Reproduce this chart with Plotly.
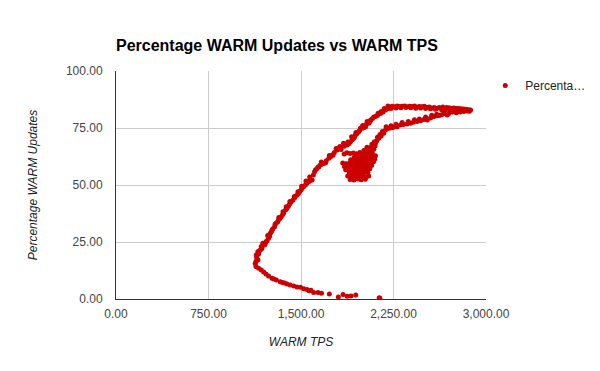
import plotly.graph_objects as go

# bottom tail (right to left)
tail_tps = [2134, 2140, 1944, 1906, 1874, 1841, 1803, 1730, 1666, 1638, 1603, 1581, 1565, 1549, 1522, 1495,
            1468, 1441, 1413, 1387, 1367, 1350, 1332, 1300, 1280, 1265, 1237, 1216, 1197, 1178, 1156, 1135]
tail_pct = [0.6, 0.3, 1.8, 1.3, 1.2, 2.0, 0.9, 2.2, 2.5, 2.8, 2.9, 3.8, 3.6, 4.2, 4.5, 5.1,
            5.3, 5.7, 6.1, 6.6, 7.0, 7.2, 7.6, 8.3, 8.8, 9.1, 10.1, 11.0, 11.8, 12.7, 13.5, 14.2]

# left rising arm
rise_tps = [1129, 1135, 1143, 1137, 1151, 1156, 1150, 1170, 1183, 1178, 1205, 1216, 1225, 1237, 1245, 1251,
            1265, 1272, 1286, 1297, 1310, 1318, 1330, 1340, 1354, 1359, 1375, 1387, 1398, 1408, 1420, 1435,
            1450, 1468, 1480, 1489, 1500, 1508, 1520, 1535, 1548, 1562, 1575, 1590]
rise_pct = [15.6, 16.5, 17.8, 19.3, 17.1, 19.7, 20.7, 21.5, 22.2, 23.0, 23.7, 25.1, 25.6, 26.6, 27.5, 28.8,
            30.3, 30.8, 31.7, 33.2, 33.8, 34.6, 35.3, 36.1, 38.3, 37.6, 39.0, 39.8, 40.8, 41.7, 42.5, 43.4,
            44.5, 45.6, 46.3, 47.1, 47.8, 48.6, 49.2, 50.0, 50.8, 51.4, 52.0, 52.2]
rise2_tps = [1140, 1160, 1190, 1210, 1230, 1260, 1290, 1320, 1350, 1380, 1410, 1445, 1475, 1505, 1540, 1570]
rise2_pct = [18.5, 21.0, 24.5, 24.2, 27.8, 29.5, 32.8, 35.8, 37.0, 40.5, 42.8, 45.0, 47.0, 49.5, 51.8, 53.5]

# upper branch
upper_tps = [1600, 1617, 1630, 1645, 1657, 1670, 1690, 1705, 1725, 1740, 1752, 1770, 1793, 1810, 1825, 1850,
             1874, 1890, 1901, 1915, 1928, 1935, 1941, 1955, 1968, 1982, 1996, 2010, 2023, 2036, 2050, 2065,
             2080, 2104, 2120, 2145, 2165, 2185, 2200, 2212]
upper_pct = [54.4, 56.6, 57.2, 58.0, 58.8, 59.2, 59.5, 60.6, 61.7, 62.4, 63.2, 64.2, 65.4, 66.0, 65.6, 67.0,
             67.5, 68.2, 69.0, 69.8, 70.5, 71.2, 71.9, 72.6, 73.4, 74.9, 74.9, 75.2, 75.6, 77.8, 77.1, 78.5,
             79.2, 80.0, 80.5, 81.4, 82.0, 82.9, 83.4, 83.9]
upper2_tps = [1610, 1640, 1665, 1700, 1730, 1760, 1785, 1815, 1845, 1880, 1910, 1945, 1975, 2000, 2030, 2060,
              2090, 2125, 2150, 2175, 2205]
upper2_pct = [55.8, 57.9, 60.1, 59.8, 62.9, 63.0, 66.0, 66.9, 68.3, 68.9, 71.2, 73.0, 73.9, 76.1, 76.6, 78.0,
              79.8, 81.5, 82.2, 83.5, 84.6]

# top plateau and right wing
top_tps = [2220, 2240, 2260, 2280, 2300, 2320, 2340, 2360, 2380, 2400, 2420, 2440, 2460, 2480, 2500, 2520,
           2540, 2560, 2580, 2600, 2620, 2650, 2680, 2700, 2720, 2740, 2760, 2780, 2800, 2820, 2840, 2860, 2875]
top_pct = [84.2, 84.5, 84.3, 84.6, 84.4, 84.5, 84.7, 84.3, 84.5, 84.4, 84.6, 84.2, 84.4, 84.3, 84.5, 84.0,
           84.2, 83.8, 84.0, 83.6, 84.0, 84.2, 84.0, 83.9, 83.7, 83.8, 83.5, 83.6, 83.4, 83.3, 83.2, 83.0, 82.9]
top2_tps = [2230, 2270, 2310, 2350, 2390, 2430, 2470, 2510, 2550, 2590, 2640, 2670, 2710, 2750, 2790, 2830, 2865]
top2_pct = [83.6, 83.8, 83.9, 84.0, 83.9, 83.7, 83.8, 83.6, 83.4, 83.2, 83.0, 82.8, 82.9, 82.4, 82.7, 82.8, 82.3]

# lower returning branch
lower_tps = [2850, 2820, 2790, 2760, 2730, 2700, 2686, 2659, 2640, 2620, 2600, 2578, 2550, 2524, 2497, 2470,
             2440, 2410, 2388, 2360, 2330, 2307, 2280, 2260, 2240, 2215, 2199, 2185, 2171, 2150, 2131, 2115,
             2104, 2085, 2063, 2045]
lower_pct = [82.5, 82.2, 82.0, 81.7, 82.0, 81.5, 80.7, 81.2, 80.8, 80.5, 80.4, 80.0, 79.4, 78.5, 78.7, 78.2,
             77.8, 77.5, 77.1, 76.8, 76.5, 76.3, 75.6, 75.5, 75.1, 74.9, 74.9, 74.1, 72.7, 71.5, 70.5, 69.4,
             68.3, 67.2, 66.1, 65.0]
lower2_tps = [2600, 2560, 2510, 2460, 2420, 2370, 2320, 2270, 2230, 2190, 2160, 2140, 2120, 2095, 2075]
lower2_pct = [81.0, 80.6, 79.8, 79.0, 78.6, 77.9, 77.4, 76.6, 76.0, 75.5, 73.5, 72.2, 70.9, 69.0, 67.9]

# dense cluster
blob_tps = [1850, 1872, 1898, 1924, 1951, 1977, 2003, 2026, 2052, 2078,
            1932, 1957, 1983, 2008, 2031, 2057, 2083, 2104,
            1903, 1926, 1948, 1976, 2002, 2027, 2049, 2074, 2098,
            1838, 1864, 1892, 1917, 1941, 1966, 1988, 2016, 2041, 2066, 2088,
            1852, 1877, 1899, 1926, 1952, 1973, 2001, 2024, 2051, 2073,
            1862, 1886, 1911, 1934, 1961, 1987, 2009, 2036, 2058,
            1892, 1914, 1941, 1967, 1989, 2013, 2042,
            1879, 1906, 1931, 1953, 1982, 2004, 2028, 2049,
            1898, 1929, 1962, 1988, 2021,
            2035, 2060, 2082, 2100,
            2010, 2040, 2065, 2090]
blob_pct = [63.6, 64.1, 63.8, 64.0, 63.7, 64.2, 63.9, 64.3, 63.8, 64.0,
            62.2, 62.6, 62.4, 62.1, 62.7, 62.3, 62.5, 62.8,
            61.1, 60.8, 61.2, 60.9, 61.0, 61.3, 60.7, 61.1, 61.4,
            59.6, 59.3, 59.7, 59.4, 59.5, 59.8, 59.2, 59.6, 59.4, 59.9, 60.2,
            58.1, 57.8, 58.2, 57.9, 58.0, 58.3, 57.7, 58.1, 58.4, 58.6,
            56.7, 56.4, 56.8, 56.5, 56.6, 56.9, 56.3, 56.7, 57.1,
            55.3, 55.0, 55.4, 55.1, 55.2, 55.5, 55.6,
            53.9, 53.6, 54.0, 53.7, 53.8, 54.1, 53.5, 53.9,
            52.4, 52.2, 52.6, 52.3, 52.5,
            66.6, 66.3, 66.8, 67.1,
            65.1, 65.4, 65.0, 65.7]

warm_tps = (tail_tps + rise_tps + rise2_tps + upper_tps + upper2_tps + top_tps + top2_tps
            + lower_tps + lower2_tps + blob_tps)
warm_pct = (tail_pct + rise_pct + rise2_pct + upper_pct + upper2_pct + top_pct + top2_pct
            + lower_pct + lower2_pct + blob_pct)

x_ticks = [0, 750, 1500, 2250, 3000]
y_ticks = [0, 25, 50, 75, 100]

FONT = "Liberation Sans, Arial, sans-serif"

fig = go.Figure()
fig.add_trace(go.Scatter(
    x=warm_tps, y=warm_pct, mode="markers", name="Percenta…",
    marker=dict(color="#cc0000", size=5, line=dict(width=0)),
))

fig.update_layout(
    width=600, height=371,
    margin=dict(l=108, r=122, t=63, b=80),
    paper_bgcolor="white", plot_bgcolor="white",
    font=dict(family=FONT, size=12, color="#444444"),
    title=dict(text="<b>Percentage WARM Updates vs WARM TPS</b>", x=108/600, xanchor="left",
               y=1-37/371, yanchor="middle", font=dict(family=FONT, size=16, color="#000000")),
    showlegend=True,
    legend=dict(x=0.998, xanchor="left", y=1.0, yanchor="top", font=dict(family=FONT, size=12, color="#222222"),
                bgcolor="rgba(0,0,0,0)", itemwidth=30),
    xaxis=dict(range=[0, 3000], tickvals=x_ticks, tickformat=",.2f", showgrid=True, gridcolor="#cccccc",
               zeroline=False, showline=True, linecolor="#333333", linewidth=1, ticks="",
               ticklabelstandoff=4,
               title=dict(text="<i>WARM TPS</i>", standoff=17, font=dict(family=FONT, size=12, color="#222222"))),
    yaxis=dict(range=[0, 100], tickvals=y_ticks, tickformat=",.2f", showgrid=True, gridcolor="#cccccc",
               zeroline=False, showline=True, linecolor="#333333", linewidth=1, ticks="",
               ticklabelstandoff=10,
               title=dict(text="<i>Percentage WARM Updates</i>", standoff=25, font=dict(family=FONT, size=12, color="#222222"))),
)

fig.write_html("out.html")
